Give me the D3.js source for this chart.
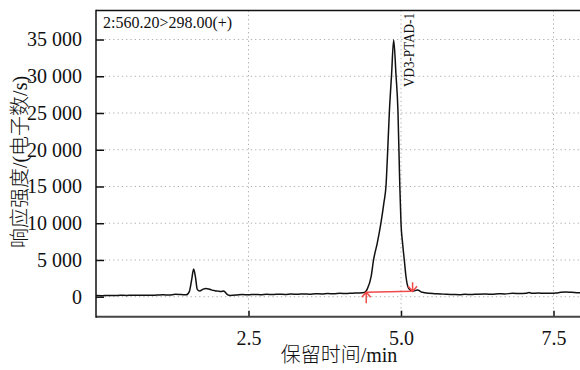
<!DOCTYPE html>
<html>
<head>
<meta charset="utf-8">
<script src="https://cdn.jsdelivr.net/npm/d3@7"></script>
<style>
  body { margin: 0; background: #fff; }
  svg text { font-family: 'Liberation Serif', 'Noto Sans CJK SC', serif; fill: #111; }
</style>
</head>
<body>
<div id="chart"></div>
<script>
// Chromatogram data (retention time in min, response in electrons/s)
let times = [
  0.00, 0.10, 0.20, 0.30, 0.40, 0.50, 0.60, 0.70, 0.80, 0.90, 1.00, 1.10, 1.20, 1.30, 1.40, 1.48,
  1.53, 1.57, 1.60, 1.63, 1.66, 1.70, 1.75, 1.80, 1.85, 1.90, 1.95, 2.00, 2.05, 2.09, 2.12, 2.16,
  2.20, 2.30, 2.40, 2.50, 2.60, 2.70, 2.80, 2.90, 3.00, 3.10, 3.20, 3.30, 3.40, 3.50, 3.60, 3.70,
  3.80, 3.90, 4.00, 4.10, 4.20, 4.30, 4.40,
  4.45, 4.51, 4.55, 4.61, 4.67, 4.72, 4.755, 4.775, 4.81, 4.845, 4.88, 4.918, 4.95, 4.97, 4.98,
  5.00, 5.026, 5.054, 5.082, 5.125, 5.19, 5.27, 5.35, 5.46, 5.55, 5.65, 5.75, 5.85, 5.96, 6.05,
  6.15, 6.25, 6.39, 6.50, 6.60, 6.70, 6.83, 6.95, 7.05, 7.10, 7.15, 7.25, 7.35, 7.49, 7.55, 7.62,
  7.70, 7.80, 7.92, 8.00
]
let response = [
  150, 140, 170, 160, 190, 175, 200, 185, 210, 195, 230, 260, 240, 320, 290, 260,
  700, 2400, 3770, 2700, 1000, 780, 1000, 1130, 1050, 900, 820, 760, 700, 780, 600, 250,
  180, 220, 300, 260, 310, 280, 330, 300, 350, 310, 360, 330, 380, 350, 400, 380,
  430, 410, 460, 430, 480, 500, 560,
  1100, 2720, 5000, 7270, 9990, 12800, 15200, 18600, 25270, 30170, 34930, 30170, 25270, 18600, 15200,
  9990, 7270, 5000, 2720, 1140, 760, 900, 600, 460, 420, 380, 320, 300, 270, 320,
  290, 350, 370, 330, 400, 380, 460, 430, 480, 560, 470, 500, 470, 460, 520, 600,
  640, 600, 550, 570
]

// Integration baseline of the main peak
let baseTimes = [4.43, 5.19]
let baseValues = [620, 740]

let yTicks = [0, 5000, 10000, 15000, 20000, 25000, 30000, 35000]
let xTicks = [2.5, 5.0, 7.5]

let transition = '2:560.20>298.00(+)'
let peakName = 'VD3-PTAD-1'
let peakTime = 4.88
let xTitle = '保留时间/min'
let yTitle = '响应强度/(电子数/s)'

let width = 580,
    height = 370
let margin = { top: 10.5, left: 96, bottom: 316.7, right: 584 }

let svg = d3.select('#chart').append('svg')
  .attr('width', width)
  .attr('height', height)

let xScale = d3.scaleLinear()
  .domain([0, 8])
  .range([margin.left, margin.right])
let yScale = d3.scaleLinear()
  .domain([-2720, 38950])
  .range([margin.bottom, margin.top])

// Dotted grid
svg.append('g')
  .selectAll('line')
  .data(yTicks)
  .join('line')
  .attr('x1', margin.left)
  .attr('x2', margin.right)
  .attr('y1', d => yScale(d))
  .attr('y2', d => yScale(d))
  .attr('stroke', '#b0b0b0')
  .attr('stroke-width', 1)
  .attr('stroke-dasharray', '1.3,3')

svg.append('g')
  .selectAll('line')
  .data(xTicks)
  .join('line')
  .attr('x1', d => xScale(d))
  .attr('x2', d => xScale(d))
  .attr('y1', margin.top)
  .attr('y2', margin.bottom)
  .attr('stroke', '#b0b0b0')
  .attr('stroke-width', 1)
  .attr('stroke-dasharray', '1.3,3')

// Axes (ticks point inward)
let yAxis = d3.axisLeft(yScale)
  .tickValues(yTicks)
  .tickSize(-8)
  .tickPadding(14)
  .tickFormat(d => d3.format(',')(d).replace(',', ' '))

let gy = svg.append('g')
  .attr('transform', 'translate(' + margin.left + ',0)')
  .call(yAxis)
gy.select('.domain').remove()
gy.selectAll('.tick line').attr('stroke', '#111').attr('stroke-width', 1.5)
gy.selectAll('.tick text')
  .attr('font-size', 20)
  .attr('fill', '#111')
  .style('font-family', "'Liberation Serif', serif")

let xAxis = d3.axisBottom(xScale)
  .tickValues(xTicks)
  .tickSize(-6)
  .tickPadding(14)
  .tickFormat(d3.format('.1f'))

let gx = svg.append('g')
  .attr('transform', 'translate(0,' + margin.bottom + ')')
  .call(xAxis)
gx.select('.domain').remove()
gx.selectAll('.tick line').attr('stroke', '#111').attr('stroke-width', 1.5)
gx.selectAll('.tick text')
  .attr('font-size', 20)
  .attr('fill', '#111')
  .style('font-family', "'Liberation Serif', serif")

// Frame lines
svg.append('line')
  .attr('x1', margin.left).attr('x2', width)
  .attr('y1', margin.top).attr('y2', margin.top)
  .attr('stroke', '#111').attr('stroke-width', 1.5)
svg.append('line')
  .attr('x1', margin.left).attr('x2', width)
  .attr('y1', margin.bottom).attr('y2', margin.bottom)
  .attr('stroke', '#444').attr('stroke-width', 2)
svg.append('line')
  .attr('x1', margin.left).attr('x2', margin.left)
  .attr('y1', margin.top - 0.75).attr('y2', margin.bottom + 1)
  .attr('stroke', '#111').attr('stroke-width', 1.5)

// Chromatogram trace
let points = times.map((t, i) => [t, response[i]])
let line = d3.line()
  .x(d => xScale(d[0]))
  .y(d => yScale(d[1]))
  .curve(d3.curveMonotoneX)

svg.append('path')
  .datum(points)
  .attr('d', line)
  .attr('fill', 'none')
  .attr('stroke', '#111')
  .attr('stroke-width', 1.5)

// Red integration baseline with start/end markers
let red = '#f04a4a'
let bx0 = xScale(baseTimes[0]), by0 = yScale(baseValues[0]),
    bx1 = xScale(baseTimes[1]), by1 = yScale(baseValues[1])

svg.append('line')
  .attr('x1', bx0).attr('y1', by0)
  .attr('x2', bx1).attr('y2', by1)
  .attr('stroke', red).attr('stroke-width', 1.5)

svg.append('path')
  .attr('d', 'M' + bx0 + ',' + (by0 + 11) + 'V' + by0 +
    'M' + (bx0 - 4.5) + ',' + (by0 + 5) + 'L' + bx0 + ',' + by0 + 'L' + (bx0 + 4.5) + ',' + (by0 + 5))
  .attr('fill', 'none')
  .attr('stroke', red).attr('stroke-width', 1.5)

svg.append('path')
  .attr('d', 'M' + bx1 + ',' + (by1 - 9) + 'V' + by1 +
    'M' + (bx1 - 4.5) + ',' + (by1 - 5) + 'L' + bx1 + ',' + by1 + 'L' + (bx1 + 4.5) + ',' + (by1 - 5))
  .attr('fill', 'none')
  .attr('stroke', red).attr('stroke-width', 1.5)

// Labels
svg.append('text')
  .attr('x', 103)
  .attr('y', 28)
  .attr('font-size', 16)
  .text(transition)

svg.append('text')
  .attr('transform', 'translate(' + (xScale(peakTime) + 20) + ',87) rotate(-90)')
  .attr('font-size', 15)
  .attr('textLength', 74)
  .attr('lengthAdjust', 'spacingAndGlyphs')
  .text(peakName)

svg.append('text')
  .attr('x', 339)
  .attr('y', 362)
  .attr('text-anchor', 'middle')
  .attr('font-size', 20)
  .attr('font-weight', 300)
  .attr('fill', '#444')
  .text(xTitle)

svg.append('text')
  .attr('transform', 'translate(27,162) rotate(-90)')
  .attr('text-anchor', 'middle')
  .attr('font-size', 20)
  .attr('font-weight', 300)
  .attr('fill', '#444')
  .text(yTitle)
</script>
</body>
</html>
